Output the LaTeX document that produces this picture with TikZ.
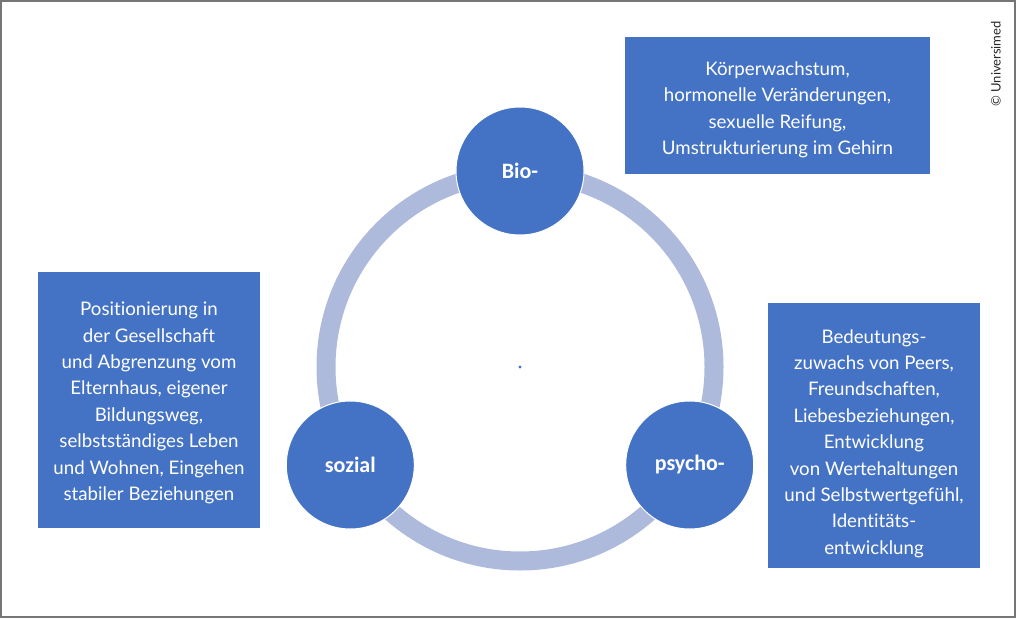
\documentclass[tikz,border=0pt]{standalone}
\usepackage{fontspec}
\setmainfont{Lato}[Ligatures=NoCommon]
\newfontfamily\labelfont{Carlito}
\usetikzlibrary{positioning}

\definecolor{boxblue}{RGB}{68,114,196}
\definecolor{ringblue}{RGB}{173,186,220}
\definecolor{framegray}{RGB}{118,118,118}

\tikzset{
  infobox/.style={fill=boxblue, draw=none, inner sep=0pt},
  infotext/.style={text=white, align=center, inner sep=0pt,
    font=\fontsize{18.7}{26.4}\selectfont},
  phase/.style={circle, fill=boxblue, draw=white, line width=1pt, inner sep=0pt,
    minimum size=128pt, text=white, font=\labelfont\bfseries\fontsize{22}{26}\selectfont}
}

\begin{document}
\begin{tikzpicture}[x=1pt,y=-1pt]
  \useasboundingbox (0,0) rectangle (1024,620);

  %draw frame
  \draw[framegray, line width=2pt] (1,1) rectangle (1015,617);

  %draw ring
  \coordinate (mid) at (520,367);
  \draw[ringblue, line width=19pt] (mid) circle (194);
  \fill[boxblue] (mid) circle (1.6);

  %the three circles on the ring
  \node[phase] (bio) at (520,171) {Bio-};
  \node[phase] (sozial) at (350.3,465) {sozial};
  \node[phase] (psycho) at (689.7,465) {psycho-};

  %text boxes
  \node[infobox, minimum width=305pt, minimum height=137pt] (biobox) at (777.5,105.5) {};
  \node[infotext] (biotext) at ([yshift=-4.5pt]biobox.center)
    {K\"orperwachstum,\\hormonelle Ver\"anderungen,\\sexuelle Reifung,\\Umstrukturierung im Gehirn};
  \node[infobox, minimum width=222pt, minimum height=256pt] (sozialbox) at (149,400) {};
  \node[infotext] (sozialtext) at ([yshift=-3pt]sozialbox.center)
    {Positionierung in\\der Gesellschaft\\und Abgrenzung vom\\Elternhaus, eigener\\Bildungsweg,\\selbstst\"andiges Leben\\und Wohnen, Eingehen\\stabiler Beziehungen};
  \node[infobox, minimum width=212pt, minimum height=265pt] (psychobox) at (874,435.5) {};
  \node[infotext] (psychotext) at ([yshift=-8pt]psychobox.center)
    {Bedeutungs-\\zuwachs von Peers,\\Freundschaften,\\Liebesbeziehungen,\\Entwicklung\\von Wertehaltungen\\und Selbstwertgef\"uhl,\\Identit\"ats-\\entwicklung};

  %copyright
  \node[rotate=90, text=black!85, inner sep=0pt, font=\fontsize{13}{15}\selectfont] (copy) at (996,64) {© Universimed};
\end{tikzpicture}
\end{document}
